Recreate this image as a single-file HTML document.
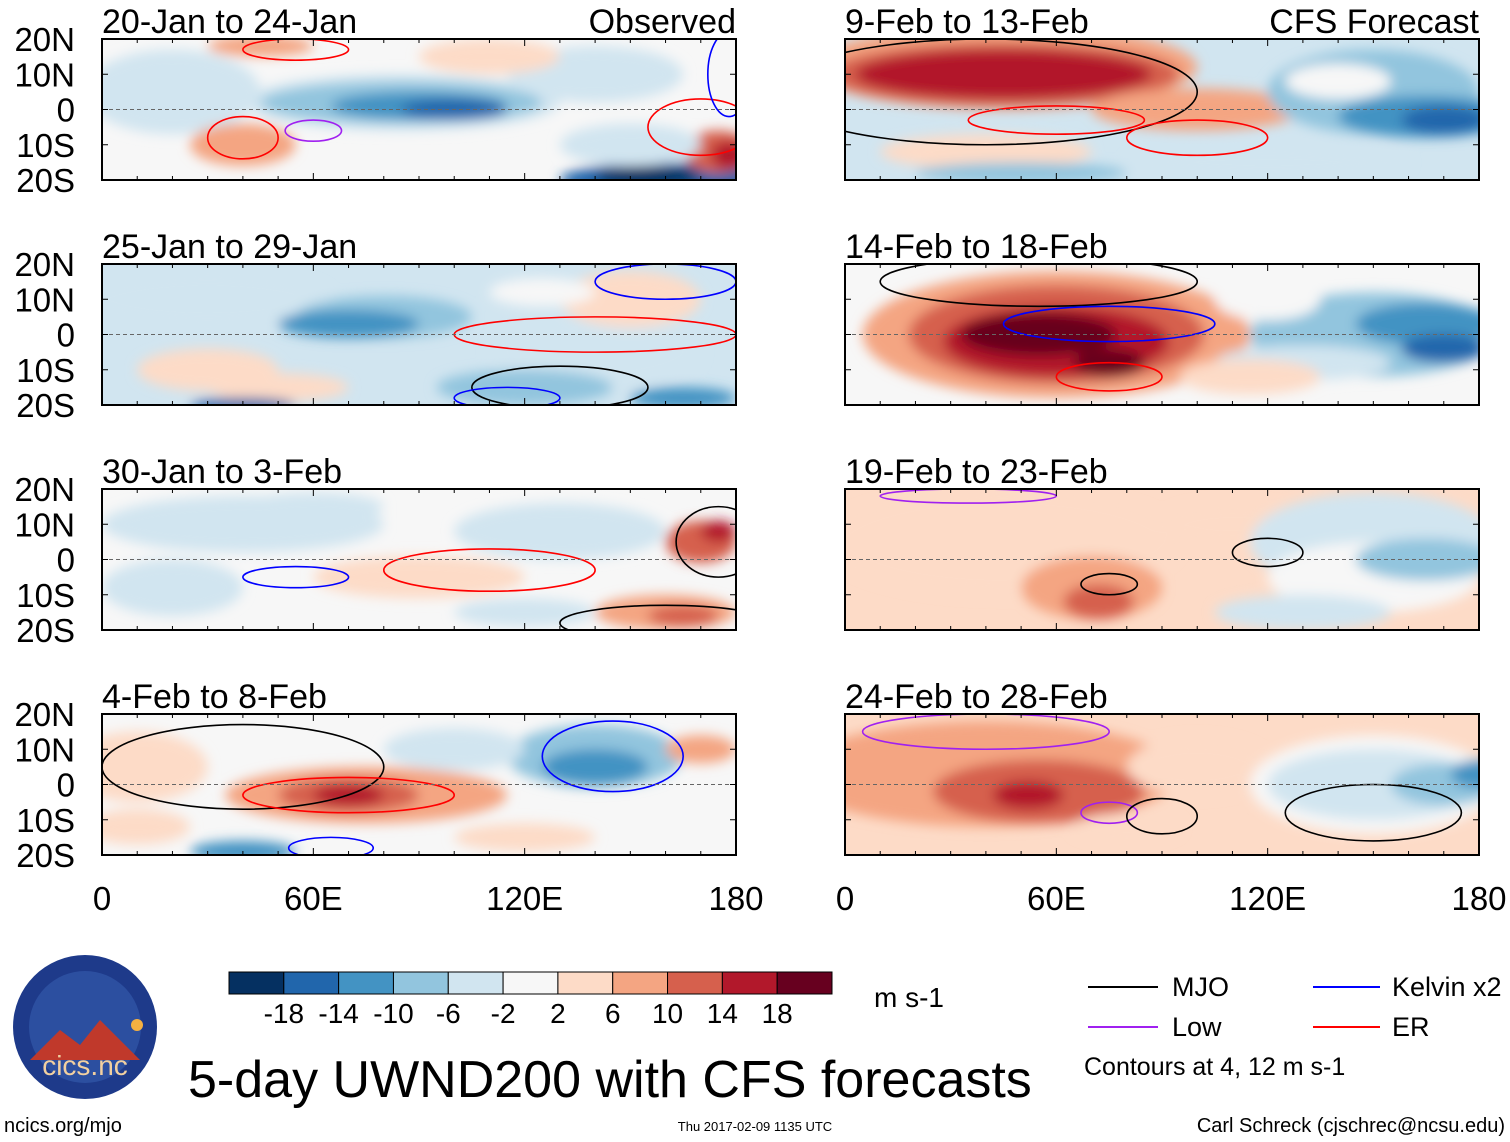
<!DOCTYPE html>
<html><head><meta charset="utf-8"><style>
body{margin:0;background:#fff}
svg{display:block;font-family:"Liberation Sans",sans-serif}
</style></head><body>
<svg id="fig" width="1510" height="1142" viewBox="0 0 1510 1142" xmlns="http://www.w3.org/2000/svg">
<defs><filter id="bl" x="-20%" y="-20%" width="140%" height="140%"><feGaussianBlur stdDeviation="6"/></filter></defs>
<g id="panels"></g>
<g id="xlabels" font-size="33" text-anchor="middle"></g>
<g id="cbar"></g>
<text x="874" y="1007" font-size="28">m s-1</text>
<g font-size="27">
<line x1="1088" y1="987" x2="1158" y2="987" stroke="#000" stroke-width="2"/><text x="1172" y="996">MJO</text>
<line x1="1313" y1="987" x2="1380" y2="987" stroke="#00f" stroke-width="2"/><text x="1392" y="996">Kelvin x2</text>
<line x1="1088" y1="1027" x2="1158" y2="1027" stroke="#a020f0" stroke-width="2"/><text x="1172" y="1036">Low</text>
<line x1="1313" y1="1027" x2="1380" y2="1027" stroke="#f00" stroke-width="2"/><text x="1392" y="1036">ER</text>
<text x="1084" y="1075" font-size="25">Contours at 4, 12 m s-1</text>
</g>
<g>
<circle cx="85" cy="1027" r="72" fill="#1e3a8a"/>
<circle cx="85" cy="1027" r="56" fill="#2c4fa0"/>
<path d="M30 1060 L60 1030 L80 1045 L100 1020 L140 1060 Z" fill="#c0392b"/>
<circle cx="137" cy="1025" r="6" fill="#f5b041"/>
<text x="85" y="1075" font-size="28" fill="#f2d0a0" text-anchor="middle">cics.nc</text>
</g>
<text x="188" y="1097" font-size="52">5-day UWND200 with CFS forecasts</text>
<text x="4" y="1132" font-size="20">ncics.org/mjo</text>
<text x="755" y="1131" font-size="13" text-anchor="middle">Thu 2017-02-09 1135 UTC</text>
<text x="1505" y="1132" font-size="20" text-anchor="end">Carl Schreck (cjschrec@ncsu.edu)</text>
</svg>
<script>
const NS="http://www.w3.org/2000/svg";
const levelColors=["#053061","#2166ac","#4393c3","#92c5de","#d1e5f0","#f7f7f7","#fddbc7","#f4a582","#d6604d","#b2182b","#67001f"];
const cbarLabels=["-18","-14","-10","-6","-2","2","6","10","14","18"];
const xTicks=[0,60,120,180];
const xTickLabels=["0","60E","120E","180"];
const yTicks=[20,10,0,-10,-20];
const yTickLabels=["20N","10N","0","10S","20S"];
const panelTitles=["20-Jan to 24-Jan","9-Feb to 13-Feb","25-Jan to 29-Jan","14-Feb to 18-Feb","30-Jan to 3-Feb","19-Feb to 23-Feb","4-Feb to 8-Feb","24-Feb to 28-Feb"];
// blobs: [lon, lat, halfwidthLon, halfwidthLat, levelIndex]
const base=[5,4,4,5,5,6,5,6];
const blobs=[
 [[20,5,25,12,4],[85,2,45,8,4],[85,2,40,6,3],[90,1,25,4,2],[100,0,15,3,1],[160,-20,30,5,1],[155,-19,15,3,0],[175,-12,10,6,8],[178,-13,5,4,9],[40,-10,15,6,7],[45,18,15,3,7],[140,10,25,8,4],[150,-10,20,6,4],[110,15,20,5,6]],
 [[45,12,55,12,7],[45,10,50,9,8],[45,10,42,7,9],[100,0,30,6,7],[40,-12,30,5,6],[150,5,30,12,3],[165,-2,25,6,2],[170,-3,12,4,1],[50,-18,30,3,3],[120,-15,40,5,4],[140,8,15,5,5]],
 [[30,10,35,8,4],[80,5,25,6,3],[70,3,20,4,2],[30,-10,20,6,6],[50,-15,20,4,6],[140,-5,30,10,4],[120,-15,25,5,3],[165,-18,15,3,2],[40,-20,15,2,1],[150,10,20,8,6],[125,12,15,4,5]],
 [[60,0,55,18,7],[60,0,42,14,8],[60,-2,32,10,9],[55,0,22,6,10],[75,-8,10,4,10],[150,0,35,12,3],[165,3,20,6,2],[170,-4,12,4,1],[130,-8,25,5,4],[120,10,15,6,5],[115,-12,20,5,6]],
 [[40,10,40,8,4],[130,8,30,8,4],[20,-8,20,8,4],[90,-5,30,6,6],[170,5,10,6,8],[175,8,5,3,9],[160,-15,20,5,7],[165,-16,10,3,8],[60,15,20,4,4],[120,-15,20,4,4]],
 [[45,5,50,15,6],[70,-8,20,9,7],[72,-12,10,5,8],[110,10,20,6,6],[150,5,35,14,4],[150,-5,30,10,5],[165,0,20,6,3],[130,-15,25,5,4]],
 [[10,5,20,10,6],[75,-3,40,8,7],[70,-3,20,5,8],[70,-3,10,3,9],[140,8,25,9,3],[140,5,15,5,2],[40,-19,15,3,2],[10,-12,15,5,6],[170,10,10,4,7],[100,10,20,6,4],[120,-15,20,4,6]],
 [[40,3,55,15,7],[55,-2,30,9,8],[52,-3,10,4,9],[100,5,20,8,6],[150,0,35,14,5],[150,0,30,10,4],[170,0,15,6,3],[180,3,8,4,2],[80,-12,15,4,6]]
];
// contours: [lon, lat, rLon, rLat, color]
const contours=[
 [[60,-6,8,3,"#a020f0"],[40,-8,10,6,"#f00"],[170,-5,15,8,"#f00"],[178,10,6,12,"#00f"],[55,17,15,3,"#f00"]],
 [[40,5,60,15,"#000"],[60,-3,25,4,"#f00"],[100,-8,20,5,"#f00"]],
 [[130,-15,25,6,"#000"],[115,-18,15,3,"#00f"],[140,0,40,5,"#f00"],[160,15,20,5,"#00f"]],
 [[55,15,45,7,"#000"],[75,3,30,5,"#00f"],[75,-12,15,4,"#f00"]],
 [[160,-18,30,5,"#000"],[55,-5,15,3,"#00f"],[110,-3,30,6,"#f00"],[175,5,12,10,"#000"]],
 [[35,18,25,2,"#a020f0"],[75,-7,8,3,"#000"],[120,2,10,4,"#000"]],
 [[40,5,40,12,"#000"],[70,-3,30,5,"#f00"],[145,8,20,10,"#00f"],[65,-18,12,3,"#00f"]],
 [[150,-8,25,8,"#000"],[40,15,35,5,"#a020f0"],[75,-8,8,3,"#a020f0"],[90,-9,10,5,"#000"]]
];
const panelX=[102,845], panelY=[39,264,489,714], PW=634, PH=141;
const g=document.getElementById('panels');
function el(t,a,p){const e=document.createElementNS(NS,t);for(const k in a)e.setAttribute(k,a[k]);(p||g).appendChild(e);return e;}
for(let i=0;i<8;i++){
 const x0=panelX[i%2], y0=panelY[Math.floor(i/2)];
 const sx=lon=>x0+lon/180*PW, sy=lat=>y0+(20-lat)/40*PH;
 const pg=el('g',{});
 
 
 const cp=el('clipPath',{id:'c'+i},pg);el('rect',{x:x0,y:y0,width:PW,height:PH},cp);
 const inner=el('g',{'clip-path':'url(#c'+i+')'},pg);
 el('rect',{x:x0,y:y0,width:PW,height:PH,fill:levelColors[base[i]]},inner);
 const fg=el('g',{filter:'url(#bl)'},inner);
 blobs[i].forEach(b=>{const e=el('ellipse',{cx:sx(b[0]),cy:sy(b[1]),rx:b[2]/180*PW,ry:b[3]/40*PH,fill:levelColors[b[4]]},fg);
  });
 contours[i].forEach(c=>{const e=el('ellipse',{cx:sx(c[0]),cy:sy(c[1]),rx:c[2]/180*PW,ry:c[3]/40*PH,fill:'none',stroke:c[4],'stroke-width':1.6},inner);
  });
 el('line',{x1:x0,y1:sy(0),x2:x0+PW,y2:sy(0),stroke:'#666','stroke-dasharray':'4 3','stroke-width':1},inner);
 el('rect',{x:x0,y:y0,width:PW,height:PH,fill:'none',stroke:'#000','stroke-width':2},pg);
 for(let l=0;l<=180;l+=10){const t=(l%60==0)?7:4;el('line',{x1:sx(l),y1:y0,x2:sx(l),y2:y0+t,stroke:'#000'},pg);el('line',{x1:sx(l),y1:y0+PH,x2:sx(l),y2:y0+PH-t,stroke:'#000'},pg);}
 yTicks.forEach(v=>{el('line',{x1:x0,y1:sy(v),x2:x0+6,y2:sy(v),stroke:'#000'},pg);el('line',{x1:x0+PW,y1:sy(v),x2:x0+PW-6,y2:sy(v),stroke:'#000'},pg);});
 const tt=el('text',{x:x0,y:y0-6,'font-size':34},pg);tt.textContent=panelTitles[i];
 
 if(i==0){const o=el('text',{x:x0+PW,y:y0-6,'font-size':34,'text-anchor':'end'},pg);o.textContent='Observed';}
 if(i==1){const o=el('text',{x:x0+PW,y:y0-6,'font-size':34,'text-anchor':'end'},pg);o.textContent='CFS Forecast';}
 if(i%2==0){yTicks.forEach((v,k)=>{const t=el('text',{x:75,y:sy(v)+12,'font-size':33,'text-anchor':'end'},pg);t.textContent=yTickLabels[k];
  });}
}
const xl=document.getElementById('xlabels');
panelX.forEach(x0=>xTicks.forEach((l,k)=>{const t=el('text',{x:x0+l/180*PW,y:910},xl);t.textContent=xTickLabels[k];
 }));
const cb=document.getElementById('cbar');const bw=603/11;
levelColors.forEach((c,k)=>{const r=el('rect',{x:229+k*bw,y:972,width:bw,height:22,fill:c,stroke:'#000','stroke-width':1},cb);
 });
cbarLabels.forEach((s,k)=>{const t=el('text',{x:229+(k+1)*bw,y:1023,'font-size':28,'text-anchor':'middle'},cb);t.textContent=s;
 });
</script>
</body></html>
